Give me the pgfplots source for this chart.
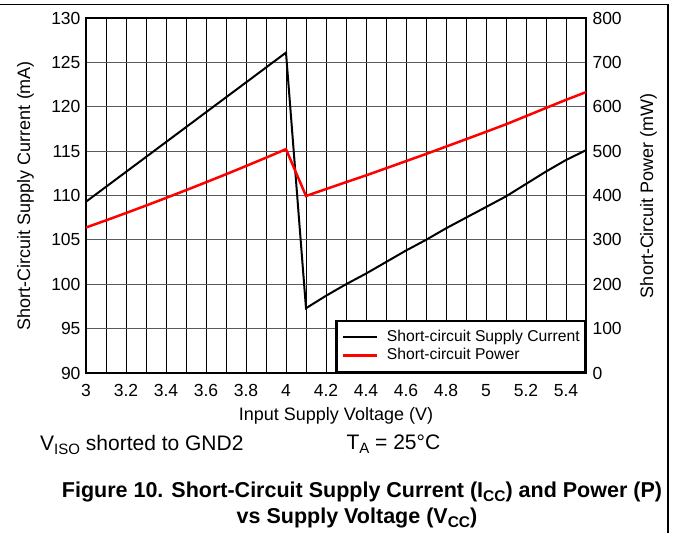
\documentclass[border=0pt]{standalone}
\usepackage{fontspec}
\setmainfont{Liberation Sans}
\usepackage{pgfplots}
\pgfplotsset{compat=1.18}
\definecolor{gridgray}{RGB}{90,90,90}
\begin{document}
\begin{tikzpicture}[x=1pt,y=1pt]
\useasboundingbox (0,0) rectangle (673,-533);
\draw[line width=1.3pt] (0,-4.3) -- (668,-4.3) -- (668,-533);
% left axis: supply current
\begin{axis}[
  at={(86pt,-373pt)}, anchor=south west,
  width=500pt, height=355pt, scale only axis,
  xmin=3, xmax=5.5, ymin=90, ymax=130,
  xtick={3,3.2,3.4,3.6,3.8,4,4.2,4.4,4.6,4.8,5,5.2,5.4},
  minor xtick={3.1,3.3,3.5,3.7,3.9,4.1,4.3,4.5,4.7,4.9,5.1,5.3,5.5},
  ytick={90,95,100,105,110,115,120,125,130},
  ytick pos=left, xtick pos=bottom,
  major tick length=0pt, minor tick length=0pt,
  xmajorgrids, xminorgrids, ymajorgrids,
  x grid style={black, line width=0.9pt},
  y grid style={gridgray, line width=1.2pt},
  axis line style={line width=2.6pt},
  /pgf/number format/assume math mode=true,
  tick label style={font=\fontsize{17.5}{20}\selectfont},
  xticklabel shift=8pt, yticklabel shift=2pt,
  label style={font=\fontsize{18}{21}\selectfont},
  xlabel={Input Supply Voltage (V)},
  xlabel style={at={(axis description cs:0.5,-0.1352)}, anchor=base},
  ylabel={Short-Circuit Supply Current (mA)},
  ylabel style={at={(axis description cs:-0.1116,0.5)}, anchor=base},
]
\addplot[black, line width=2pt] table {
x y
3.0 109.3
3.5 117.7
4.0 126.1
4.1 97.3
4.2 98.7
4.3 100.0
4.4 101.2
4.5 102.5
4.6 103.8
4.7 105.0
4.8 106.3
4.9 107.5
5.0 108.7
5.1 109.9
5.2 111.3
5.3 112.7
5.4 114.0
5.5 115.1
};
\end{axis}
% right axis: power
\begin{axis}[
  at={(86pt,-373pt)}, anchor=south west,
  width=500pt, height=355pt, scale only axis,
  xmin=3, xmax=5.5, ymin=0, ymax=800,
  axis x line=none, axis y line*=right,
  ytick={0,100,200,300,400,500,600,700,800},
  major tick length=0pt,
  axis line style={line width=2.6pt},
  /pgf/number format/assume math mode=true,
  tick label style={font=\fontsize{17.5}{20}\selectfont},
  yticklabel shift=3pt,
  label style={font=\fontsize{18}{21}\selectfont},
  ylabel={Short-Circuit Power (mW)},
  ylabel style={at={(axis description cs:1.134,0.5)}, anchor=base},
  legend cell align=left,
  legend image code/.code={\draw[#1] (0pt,0pt) -- (34pt,0pt);},
  legend style={at={(rel axis cs:1,0)}, anchor=south east,
    draw=black, line width=2.5pt, fill=white,
    font=\fontsize{15.7}{18}\selectfont,
    inner xsep=5pt, inner ysep=9pt,
    row sep=4pt, column sep=9pt,
    nodes={inner sep=0pt, text height=11pt, text depth=3.3pt}},
]
\addlegendimage{black, line width=2pt}
\addlegendentry{Short-circuit Supply Current}
\addplot[red, line width=2.5pt] table {
x y
3.0 327.9
3.1 344.0
3.2 360.5
3.3 377.3
3.4 394.5
3.5 412.0
3.6 429.8
3.7 447.9
3.8 466.4
3.9 485.2
4.0 504.4
4.1 399.0
4.2 414.5
4.3 430.0
4.4 445.3
4.5 461.3
4.6 477.5
4.7 493.5
4.8 510.2
4.9 526.8
5.0 543.5
5.1 560.5
5.2 578.8
5.3 597.3
5.4 615.6
5.5 633.0
};
\addlegendentry{Short-circuit Power}
\end{axis}
\node[anchor=base west, font=\fontsize{21}{25}\selectfont] at (36.7,-450)
  {V\raisebox{-0.22em}{\fontsize{15}{15}\selectfont ISO} shorted to GND2};
\node[anchor=base west, font=\fontsize{21}{25}\selectfont] at (343,-449)
  {T\raisebox{-0.22em}{\fontsize{15}{15}\selectfont A} = 25°C};
\node[anchor=base, font=\bfseries\fontsize{21.5}{26}\selectfont] at (362,-497)
  {Figure 10. Short-Circuit Supply Current (I\raisebox{-0.22em}{\fontsize{15.5}{15.5}\selectfont CC}) and Power (P)};
\node[anchor=base, font=\bfseries\fontsize{21.5}{26}\selectfont] at (357,-523)
  {vs Supply Voltage (V\raisebox{-0.22em}{\fontsize{15.5}{15.5}\selectfont CC})};
\end{tikzpicture}
\end{document}
